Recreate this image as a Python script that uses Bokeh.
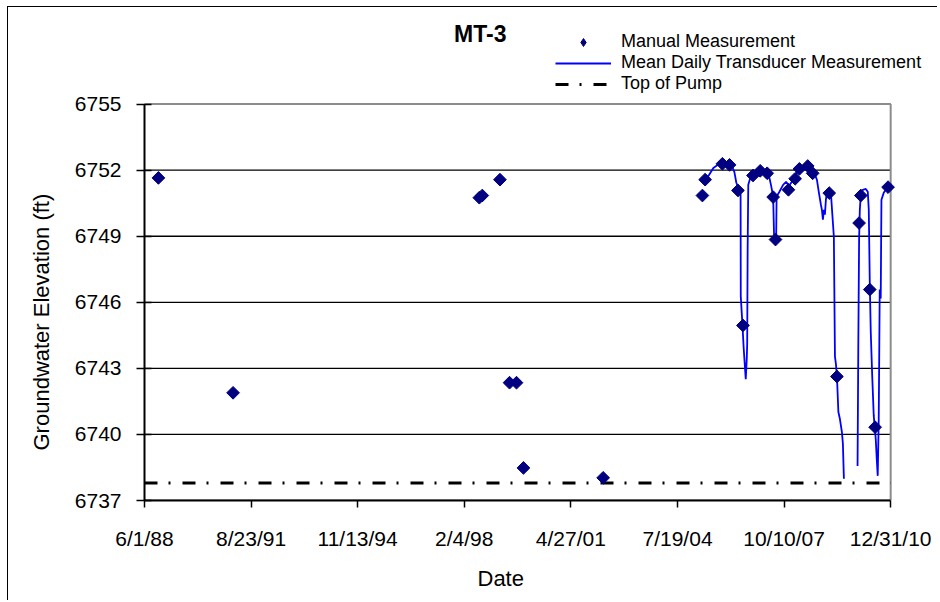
import numpy as np
import pandas as pd
from bokeh.plotting import figure
from bokeh.models import FixedTicker, Legend, LegendItem, Label, Range1d, Title
from bokeh.embed import file_html
from bokeh.resources import INLINE

# ---------------- data ----------------
title_text = "MT-3"
x_title = "Date"
y_title = "Groundwater Elevation (ft)"

tick_labels = ["6/1/88", "8/23/91", "11/13/94", "2/4/98", "4/27/01", "7/19/04", "10/10/07", "12/31/10"]
y_ticks = [6737, 6740, 6743, 6746, 6749, 6752, 6755]

manual_dates = ["1988-11-02", "1991-02-05", "1998-07-20", "1998-08-22", "1999-03-05", "1999-06-19",
                "1999-09-04", "1999-11-20", "2002-04-19", "2005-04-20", "2005-05-20", "2005-11-27",
                "2006-02-14", "2006-05-18", "2006-07-12", "2006-10-31", "2007-01-19", "2007-04-06",
                "2007-06-11", "2007-07-07", "2007-11-27", "2008-02-09", "2008-03-27", "2008-06-27",
                "2008-08-21", "2009-02-20", "2009-05-16", "2010-01-16", "2010-02-04", "2010-05-14",
                "2010-07-12", "2010-12-02"]
manual_values = [6751.65, 6741.89, 6750.75, 6750.85, 6751.57, 6742.35,
                 6742.35, 6738.48, 6738.03, 6750.85, 6751.57, 6752.29,
                 6752.24, 6751.08, 6744.95, 6751.76, 6751.97, 6751.86,
                 6750.78, 6748.85, 6751.11, 6751.61, 6752.06, 6752.19,
                 6751.86, 6750.96, 6742.63, 6749.60, 6750.85, 6746.58,
                 6740.33, 6751.23]

transducer_dates = ["2005-05-23", "2005-06-25", "2005-08-19", "2005-10-24", "2005-12-29", "2006-03-06",
                    "2006-04-08", "2006-04-30", "2006-06-02", "2006-06-16", "2006-06-18", "2006-07-05",
                    "2006-07-21", "2006-08-01", "2006-08-12", "2006-08-23", "2006-08-28", "2006-09-02",
                    "2006-09-09", "2006-10-01", "2006-11-03", "2006-12-17", "2007-01-30", "2007-03-26",
                    "2007-04-28", "2007-05-20", "2007-06-11", "2007-06-22", "2007-07-14", "2007-07-19",
                    "2007-08-16", "2007-09-29", "2007-11-01", "2007-12-04", "2008-01-17", "2008-03-12",
                    "2008-05-06", "2008-07-11", "2008-09-04", "2008-10-07", "2008-10-29", "2008-11-20",
                    "2008-12-01", "2008-12-12", "2008-12-23", "2009-01-03", "2009-01-14", "2009-01-25",
                    "2009-03-10", "2009-04-12", "2009-04-24", "2009-05-05", "2009-05-16", "2009-06-01",
                    "2009-06-18", "2009-07-10", "2009-07-21", "2009-08-01", "2009-08-15", "2009-12-30",
                    "2010-01-07", "2010-01-16", "2010-01-24", "2010-02-04", "2010-02-26", "2010-03-31",
                    "2010-04-22", "2010-05-03", "2010-05-14", "2010-05-25", "2010-06-10", "2010-06-27",
                    "2010-07-19", "2010-07-30", "2010-08-10", "2010-08-21", "2010-08-27", "2010-09-01",
                    "2010-09-12", "2010-09-20", "2010-10-15", "2010-11-28"]
transducer_values = [6751.47, 6751.74, 6752.10, 6752.29, 6752.33, 6752.24,
                     6751.92, 6751.43, 6751.10, 6750.90, 6746.27, 6745.09,
                     6743.87, 6743.19, 6742.51, 6743.42, 6744.10, 6748.40,
                     6751.34, 6751.65, 6751.79, 6751.90, 6752.00, 6751.90,
                     6751.70, 6751.29, 6750.80, 6748.85, 6748.85, 6750.80,
                     6751.00, 6751.33, 6751.47, 6751.29, 6751.56, 6751.97,
                     6752.19, 6752.19, 6751.92, 6751.56, 6750.97, 6750.43,
                     6750.20, 6749.75, 6750.20, 6749.98, 6750.66, 6750.97,
                     6750.97, 6748.98, 6743.55, 6743.19, 6742.65, 6741.02,
                     6740.70, 6740.11, 6739.57, 6737.99, float("nan"), 6738.57,
                     6743.87, 6748.85, 6750.20, 6750.88, 6751.11, 6751.15,
                     6751.02, 6750.20, 6746.90, 6744.64, 6742.65, 6740.84,
                     6739.80, 6738.90, 6738.12, 6740.70, 6743.87, 6746.58,
                     6746.17, 6750.66, 6750.97, 6751.24]

pump_value = 6737.8

# ---------------- layout ----------------
tick_dt = pd.to_datetime(tick_labels, format="%m/%d/%y")
tick_ms = [float(t.value // 10**6) for t in tick_dt]
x0, x1 = tick_ms[0], tick_ms[-1]
span_ms = x1 - x0
y0, y1 = y_ticks[0], y_ticks[-1]

OX, OY = 8, 7                       # figure content origin in window (margin + border)
W, H = 930, 594
AX_LEFT, AX_RIGHT = 141, 890        # window px of plot area
AX_TOP, AX_BOTTOM = 104, 502
FRAME_TOP, FRAME_RIGHT = 12, 936    # frame extended to hold title/legend
L = AX_LEFT - OX
R = (OX + W) - FRAME_RIGHT
T = FRAME_TOP - OY
B = (OY + H) - AX_BOTTOM
px_per_ms = (AX_RIGHT - AX_LEFT) / span_ms
px_per_ft = (AX_BOTTOM - AX_TOP) / (y1 - y0)
x_right = x0 + (FRAME_RIGHT - AX_LEFT) / px_per_ms
y_top = y0 + (AX_BOTTOM - FRAME_TOP) / px_per_ft


def xd(px):  # window pixel -> data x
    return x0 + (px - AX_LEFT) / px_per_ms


def yd(py):  # window pixel -> data y
    return y0 + (AX_BOTTOM - py) / px_per_ft


p = figure(width=W, height=H, x_axis_type="datetime",
           x_range=Range1d(x0, x_right), y_range=Range1d(y0, y_top),
           output_backend="svg", toolbar_location=None,
           min_border_left=L, min_border_right=R, min_border_top=T, min_border_bottom=B)
p.outline_line_color = None
p.background_fill_color = "white"
p.border_fill_color = "white"
p.styles = {"margin-left": "7px", "margin-top": "6px",
            "border-left": "1px solid #000000", "border-top": "1px solid #000000"}

FONT = "Liberation Sans"

# axes
p.xaxis.ticker = FixedTicker(ticks=tick_ms)
p.xaxis.major_label_overrides = {t: l for t, l in zip(tick_ms, tick_labels)}
p.xaxis.bounds = (x0, x1)
p.yaxis.ticker = FixedTicker(ticks=y_ticks)
p.yaxis.bounds = (y0, y1)
for ax in (p.xaxis[0], p.yaxis[0]):
    ax.axis_line_color = "black"
    ax.axis_line_width = 2
    ax.major_tick_line_color = "black"
    ax.major_tick_line_width = 1.5
    ax.minor_tick_line_color = None
    ax.major_label_text_font = FONT
    ax.major_label_text_font_size = "21px"
    ax.major_label_text_color = "black"
p.xaxis.major_tick_in = 0
p.xaxis.major_tick_out = 7
p.xaxis.major_label_standoff = 19
p.yaxis.major_tick_in = 7
p.yaxis.major_tick_out = 8
p.yaxis.major_label_standoff = 15

p.add_layout(Title(text=x_title, align="left", offset=474 - AX_LEFT, standoff=22,
                   text_font=FONT, text_font_size="22px", text_font_style="normal",
                   text_color="black"), "below")
p.add_layout(Title(text=y_title, align="left", offset=AX_BOTTOM - 452, standoff=36,
                   text_font=FONT, text_font_size="22px", text_font_style="normal",
                   text_color="black"), "left")

p.xgrid.visible = False
p.ygrid.visible = False
# horizontal gridlines across the plot area only
p.segment(x0=[x0] * len(y_ticks), y0=y_ticks, x1=[x1] * len(y_ticks), y1=y_ticks,
          line_color="black", line_width=1.3)
# plot-area top/right borders (gray)
p.segment(x0=[x0, x1], y0=[y1, y0], x1=[x1, x1], y1=[y1, y1],
          line_color="#8c8c8c", line_width=2)

# series
pump_r = p.line(x=[x0, x1], y=[pump_value, pump_value], line_color="black",
                line_width=3, line_dash="13 11 2 12")
trans_r = p.line(x=pd.to_datetime(transducer_dates), y=transducer_values,
                 line_color="#0000ff", line_width=1.8)
man_r = p.scatter(x=pd.to_datetime(manual_dates), y=manual_values, marker="square",
                  angle=np.pi / 4, size=9, fill_color="#000080", line_color="#000080")
leg_man = p.scatter(x=[x0], y=[float("nan")], marker="diamond", size=11,
                    fill_color="#000080", line_color="#000080")

legend = Legend(items=[LegendItem(label="Manual Measurement", renderers=[leg_man]),
                       LegendItem(label="Mean Daily Transducer Measurement", renderers=[trans_r]),
                       LegendItem(label="Top of Pump", renderers=[pump_r])],
                location=(552 - AX_LEFT, AX_BOTTOM - 96),
                glyph_width=56, glyph_height=20, label_height=20, spacing=0,
                padding=0, margin=0, label_standoff=10,
                border_line_color=None, background_fill_alpha=0,
                label_text_font=FONT, label_text_font_size="18px",
                label_text_color="black")
p.add_layout(legend)

p.add_layout(Label(x=xd(478), y=yd(34), text=title_text, text_align="center",
                   text_baseline="middle", text_font=FONT, text_font_style="bold",
                   text_font_size="23px", text_color="black"))

open("out.html", "w").write(file_html(p, INLINE))
